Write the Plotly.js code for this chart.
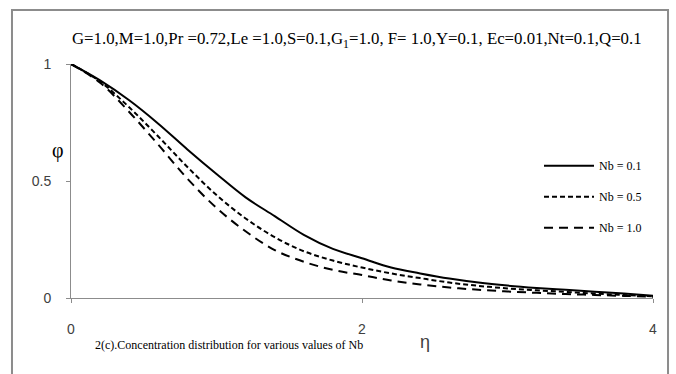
<!DOCTYPE html>
<html>
<head>
<meta charset="utf-8">
<script src="https://cdn.plot.ly/plotly-3.0.1.min.js"></script>
<style>html,body{margin:0;padding:0;background:#fff;}#chart{width:676px;height:374px;}</style>
</head>
<body>
<div id="chart"></div>
<script>
// eta values
var eta = [0,0.2,0.4,0.6,0.8,1.0,1.2,1.4,1.6,1.8,2.0,2.2,2.4,2.6,2.8,3.0,3.2,3.4,3.6,3.8,4.0];
// concentration profiles phi(eta) for Nb = 0.1, 0.5, 1.0
var phiNb01 = [1.0,0.93,0.845,0.745,0.635,0.53,0.43,0.35,0.27,0.21,0.17,0.13,0.105,0.083,0.066,0.053,0.043,0.035,0.027,0.019,0.01];
var phiNb05 = [1.0,0.925,0.815,0.69,0.56,0.44,0.34,0.26,0.2,0.16,0.13,0.105,0.085,0.066,0.052,0.041,0.033,0.026,0.019,0.013,0.007];
var phiNb10 = [1.0,0.92,0.795,0.655,0.51,0.385,0.285,0.205,0.155,0.12,0.098,0.075,0.058,0.045,0.035,0.028,0.022,0.017,0.013,0.009,0.005];
var seriesNames = ["Nb = 0.1","Nb = 0.5","Nb = 1.0"];
var xTicks = [0,2,4];
var yTicks = [0,0.5,1];
var yTickText = ["0","0.5","1"];

var dashes = ["solid","5px,3px","9px,6px"];
var ys = [phiNb01, phiNb05, phiNb10];
var traces = ys.map(function(y,i){
  return {x: eta, y: y, type:"scatter", mode:"lines", name: seriesNames[i],
    legendgroup: "g"+i, cliponaxis:false,
    line:{color:"#000", width:2, dash:dashes[i], shape:"spline"}};
});

var serif = "Liberation Serif, Times New Roman, serif";
var sans = "Liberation Sans, Arial, sans-serif";
var layout = {
  width:676, height:374,
  margin:{l:71, r:23, t:64, b:76},
  paper_bgcolor:"#fff", plot_bgcolor:"#fff",
  showlegend:true,
  legend:{x:(539-71)/582, y:0.627, xanchor:"left", yanchor:"top", bgcolor:"rgba(0,0,0,0)",
    itemwidth:50,
    font:{family:serif, size:12, color:"#000"}, tracegroupgap:12},
  xaxis:{range:[0,4], tickvals:xTicks, ticktext:xTicks.map(String), showgrid:false, zeroline:false,
    showline:true, linecolor:"#8c8c8c", linewidth:1, ticks:"outside", ticklen:4, tickcolor:"#8c8c8c",
    ticklabelstandoff:14, tickfont:{family:sans, size:14, color:"#404040"}, fixedrange:true},
  yaxis:{range:[0,1], tickvals:yTicks, ticktext:yTickText, showgrid:false, zeroline:false,
    showline:true, linecolor:"#8c8c8c", linewidth:1, ticks:"outside", ticklen:4, tickcolor:"#8c8c8c",
    ticklabelstandoff:12, tickfont:{family:sans, size:14, color:"#404040"}, fixedrange:true},
  shapes:[{type:"rect", xref:"paper", yref:"paper", x0:-0.1014, x1:1.0258, y0:-0.4, y1:1.2308,
    line:{color:"#8c8c8c", width:2}, fillcolor:"rgba(0,0,0,0)", layer:"below"}],
  annotations:[
    {xref:"paper", yref:"paper", x:(357-71)/582, y:(298-40)/234, xanchor:"center", yanchor:"middle", showarrow:false,
     text:"G=1.0,M=1.0,Pr =0.72,Le =1.0,S=0.1,G<sub>1</sub>=1.0, F= 1.0,Y=0.1, Ec=0.01,Nt=0.1,Q=0.1",
     font:{family:serif, size:16.8, color:"#000"}},
    {xref:"paper", yref:"paper", x:(58-71)/582, y:(298-150)/234, xanchor:"center", yanchor:"middle", showarrow:false,
     text:"φ", font:{family:serif, size:20, color:"#000"}},
    {xref:"paper", yref:"paper", x:(425-71)/582, y:(298-342)/234, xanchor:"center", yanchor:"middle", showarrow:false,
     text:"η", font:{family:sans, size:18, color:"#404040"}},
    {xref:"paper", yref:"paper", x:(93-71)/582, y:(298-345)/234, xanchor:"left", yanchor:"middle", showarrow:false,
     text:"2(c).Concentration distribution for various values of Nb", font:{family:serif, size:12, color:"#000"}}
  ]
};
Plotly.newPlot("chart", traces, layout, {displayModeBar:false, staticPlot:true});
</script>
</body>
</html>
